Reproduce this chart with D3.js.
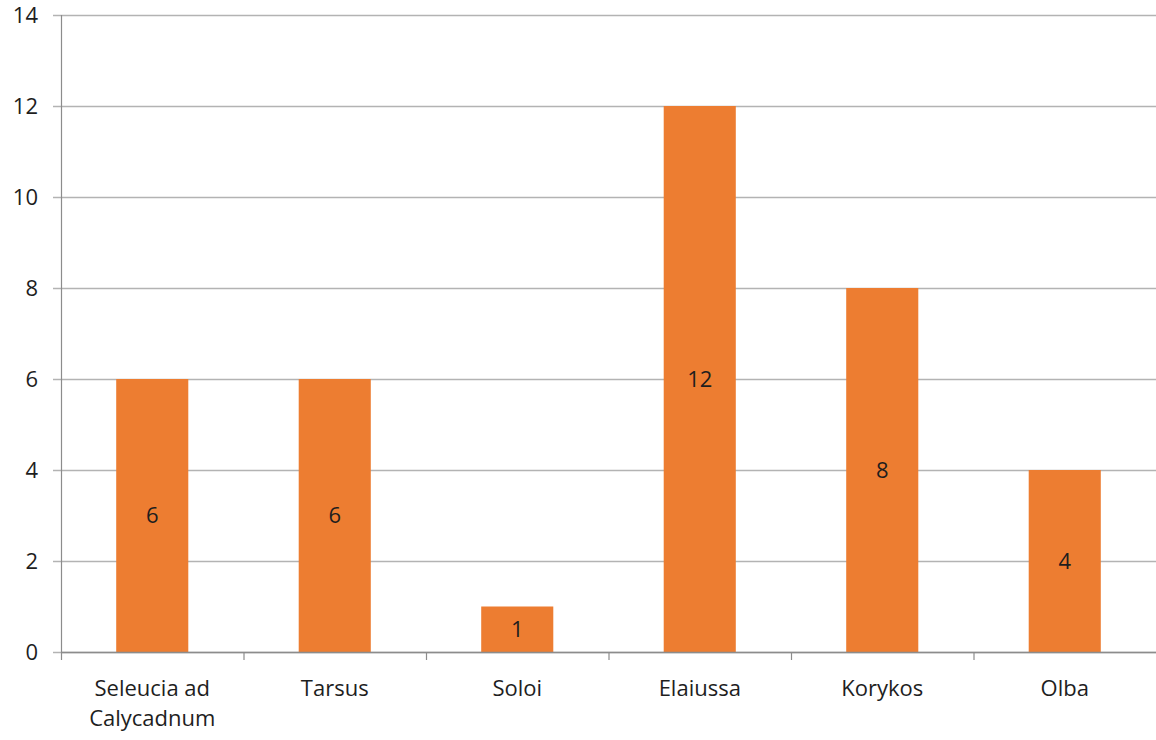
<!DOCTYPE html>
<html>
<head>
<meta charset="utf-8">
<script src="https://cdn.jsdelivr.net/npm/d3@7"></script>
<style>
    body { margin: 0; background: #fff; }
    text { font-family: "Open Sans", Lato, sans-serif; fill: #1e1e1e; }
</style>
</head>
<body>
<div id="chart"></div>
<script>
// Chart data
const categories = ['Seleucia ad Calycadnum', 'Tarsus', 'Soloi', 'Elaiussa', 'Korykos', 'Olba'];
const counts = [6, 6, 1, 12, 8, 4];
const yTicks = [0, 2, 4, 6, 8, 10, 12, 14];

const width = 1156;
const height = 740;
const margin = { top: 15, right: 0, bottom: 88, left: 61 };
const fontSize = 22;

const svg = d3.select('#chart').append('svg')
    .attr('width', width)
    .attr('height', height);

const x = d3.scaleBand()
    .domain(categories)
    .range([margin.left, width - margin.right]);

const y = d3.scaleLinear()
    .domain([0, 14])
    .range([height - margin.bottom, margin.top]);

// Gridlines
svg.append('g')
    .selectAll('line')
    .data(yTicks)
    .join('line')
    .attr('x1', margin.left - 8)
    .attr('x2', width - margin.right)
    .attr('y1', d => y(d) + 0.5)
    .attr('y2', d => y(d) + 0.5)
    .attr('stroke', '#b3b3b3')
    .attr('stroke-width', 1.5);

// Y labels
svg.append('g')
    .selectAll('text')
    .data(yTicks)
    .join('text')
    .attr('x', 38)
    .attr('y', d => y(d))
    .attr('dy', '0.35em')
    .attr('text-anchor', 'end')
    .attr('font-size', fontSize)
    .text(d => d);

// Bars
const barW = x.bandwidth() * 0.395;
svg.append('g')
    .selectAll('rect')
    .data(categories)
    .join('rect')
    .attr('x', (d, i) => x(d) + (x.bandwidth() - barW) / 2)
    .attr('y', (d, i) => y(counts[i]))
    .attr('width', barW)
    .attr('height', (d, i) => y(0) - y(counts[i]))
    .attr('fill', '#ed7d31');

// Value labels
svg.append('g')
    .selectAll('text')
    .data(categories)
    .join('text')
    .attr('x', d => x(d) + x.bandwidth() / 2)
    .attr('y', (d, i) => y(counts[i] / 2))
    .attr('dy', '0.35em')
    .attr('text-anchor', 'middle')
    .attr('font-size', fontSize)
    .text((d, i) => counts[i]);

// Axes lines
const axisColor = '#8c8c8c';
svg.append('line')
    .attr('x1', margin.left + 0.5).attr('x2', margin.left + 0.5)
    .attr('y1', margin.top).attr('y2', y(0) + 8)
    .attr('stroke', axisColor).attr('stroke-width', 1.2);

svg.append('line')
    .attr('x1', margin.left).attr('x2', width)
    .attr('y1', y(0) + 0.5).attr('y2', y(0) + 0.5)
    .attr('stroke', axisColor).attr('stroke-width', 1.5);

// Category ticks at band boundaries
svg.append('g')
    .selectAll('line')
    .data(categories.slice(1))
    .join('line')
    .attr('x1', d => x(d) + 0.5)
    .attr('x2', d => x(d) + 0.5)
    .attr('y1', y(0))
    .attr('y2', y(0) + 8)
    .attr('stroke', axisColor)
    .attr('stroke-width', 1.2);

// Category labels (wrap two-line name)
const labels = svg.append('g')
    .selectAll('text')
    .data(categories)
    .join('text')
    .attr('x', d => x(d) + x.bandwidth() / 2)
    .attr('y', 696)
    .attr('text-anchor', 'middle')
    .attr('font-size', fontSize);

labels.each(function(d) {
    const t = d3.select(this);
    const lines = d === 'Seleucia ad Calycadnum' ? ['Seleucia ad', 'Calycadnum'] : [d];
    lines.forEach((l, i) => {
        t.append('tspan')
            .attr('x', t.attr('x'))
            .attr('dy', i === 0 ? 0 : 30)
            .text(l);
    });
});
</script>
</body>
</html>
